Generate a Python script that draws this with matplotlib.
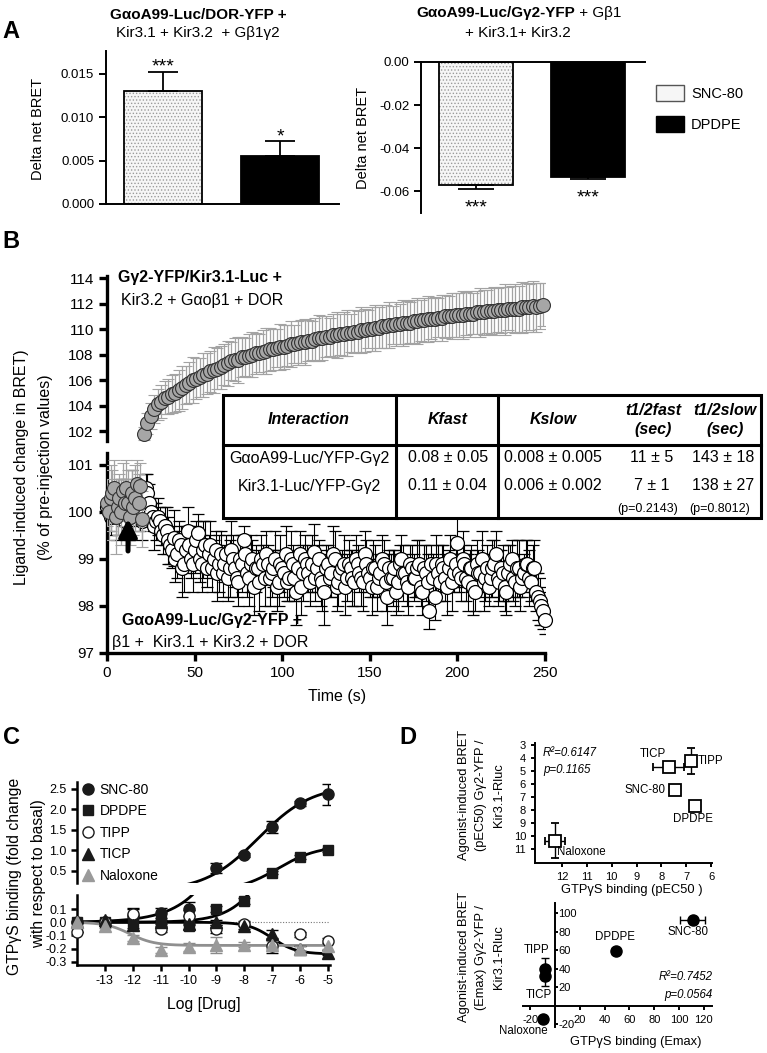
import numpy as np
import matplotlib
matplotlib.use('Agg')
import matplotlib.pyplot as plt
from matplotlib.lines import Line2D
from matplotlib.patches import Patch, Rectangle
from matplotlib.legend_handler import HandlerTuple
from matplotlib.ticker import FormatStrFormatter

plt.rcParams['font.family'] = ['Liberation Sans', 'DejaVu Sans']
plt.rcParams['axes.unicode_minus'] = False
plt.rcParams['hatch.linewidth'] = 0.6

# ---------------- data ----------------
# Panel A: delta net BRET
a_drugs = ['SNC-80', 'DPDPE']
a_dor_vals = [0.0130, 0.0055]
a_dor_errs = [0.0022, 0.0017]
a_dor_stars = ['***', '*']
a_gg_vals = [-0.0572, -0.0535]
a_gg_errs = [0.0019, 0.0009]
a_gg_stars = ['***', '***']

# Panel B: kinetics (% of pre-injection)
b_base_t = [0, 1, 2, 3, 4, 5, 6, 7, 8, 9, 10, 11, 12, 13, 14, 15, 16, 17, 18, 19, 20]
b_base_v = [100.2, 100.0, 100.3, 100.4, 100.5, 99.9, 100.1, 100.3, 100.0, 100.45,
            100.2, 100.5, 100.2, 99.9, 100.4, 100.1, 100.3, 100.6, 100.2, 100.55, 99.85]
b_base_e = [0.5, 0.6, 0.7, 0.5, 0.6, 0.8, 0.6, 0.5, 0.7, 0.6,
            0.5, 0.6, 0.7, 0.6, 0.5, 0.6, 0.7, 0.5, 0.6, 0.5, 0.6]

b_resp_t = np.arange(21, 250, 2)
b_resp_v = [101.8, 102.6, 103.2, 103.7, 104.1, 104.3, 104.6, 104.7, 104.9, 105.0,
            105.2, 105.4, 105.6, 105.8, 106.0, 106.1, 106.2, 106.4, 106.5, 106.7,
            106.8, 106.9, 107.0, 107.2, 107.3, 107.5, 107.6, 107.6, 107.8, 107.8,
            107.9, 108.0, 108.1, 108.1, 108.2, 108.3, 108.4, 108.4, 108.5, 108.6,
            108.6, 108.7, 108.8, 108.8, 108.9, 109.0, 109.0, 109.1, 109.1, 109.2,
            109.3, 109.3, 109.4, 109.4, 109.5, 109.5, 109.6, 109.6, 109.7, 109.7,
            109.8, 109.8, 109.9, 109.9, 110.0, 110.0, 110.1, 110.1, 110.2, 110.2,
            110.3, 110.3, 110.4, 110.4, 110.5, 110.5, 110.5, 110.6, 110.6, 110.7,
            110.7, 110.8, 110.8, 110.8, 110.9, 110.9, 111.0, 111.0, 111.0, 111.1,
            111.1, 111.1, 111.2, 111.2, 111.2, 111.3, 111.3, 111.3, 111.4, 111.4,
            111.4, 111.5, 111.5, 111.5, 111.6, 111.6, 111.6, 111.6, 111.7, 111.7,
            111.7, 111.8, 111.7, 111.8, 111.9]
b_resp_e = [0.5, 0.8, 1.0, 1.1, 1.2, 1.3, 1.3, 1.4, 1.5, 1.5,
            1.6, 1.7, 1.5, 1.6, 1.8, 1.6, 1.5, 1.7, 1.6, 1.6,
            1.8, 1.6, 1.7, 1.6, 1.8, 1.5, 1.7, 1.8, 1.6, 1.5,
            1.7, 1.8, 1.6, 1.5, 1.7, 1.8, 1.7, 1.6, 1.5, 1.8,
            1.7, 1.6, 1.8, 1.5, 1.7, 1.7, 1.8, 1.6, 1.5, 1.7,
            1.8, 1.7, 1.6, 1.5, 1.7, 1.8, 1.6, 1.7, 1.8, 1.5,
            1.7, 1.6, 1.8, 1.7, 1.5, 1.7, 1.8, 1.6, 1.7, 1.7,
            1.8, 1.5, 1.7, 1.6, 1.8, 1.7, 1.6, 1.7, 1.8, 1.6,
            1.7, 1.8, 1.6, 1.7, 1.5, 1.8, 1.7, 1.6, 1.8, 1.7,
            1.7, 1.9, 1.7, 1.8, 1.6, 1.7, 1.9, 1.8, 1.7, 1.8,
            1.9, 1.7, 1.8, 2.0, 1.7, 1.8, 1.9, 1.8, 2.0, 1.9,
            1.8, 2.0, 1.9, 1.8, 1.7]

# white series, even seconds
b_white_t = np.arange(0, 251, 2)
b_white_v = [100.1, 99.9, 100.2, 100.0, 100.3, 99.8, 100.1, 100.4, 100.0, 100.2,
             99.8, 100.5, 100.2, 99.9, 99.8, 99.8, 99.5, 99.6, 99.3, 99.45,
             99.1, 99.3, 98.9, 99.6, 99.0, 99.2, 99.55, 98.9, 99.3, 99.1,
             98.8, 99.2, 98.9, 98.7, 99.1, 98.8, 99.0, 98.6, 99.0, 99.4,
             98.7, 98.9, 98.4, 98.8, 99.0, 98.6, 98.9, 98.7, 99.0, 98.5,
             98.8, 99.1, 98.6, 98.9, 98.3, 99.1, 98.7, 98.9, 98.5, 99.15,
             98.8, 98.6, 98.3, 98.9, 98.7, 99.0, 98.5, 98.8, 98.4, 98.9,
             98.6, 99.0, 98.7, 98.5, 98.9, 98.6, 98.8, 98.4, 98.7, 98.9,
             98.2, 98.6, 98.8, 98.5, 99.0, 98.7, 98.4, 98.8, 98.6, 98.9,
             98.3, 98.7, 97.9, 98.6, 98.9, 98.5, 98.8, 98.4, 99.0, 98.7,
             99.35, 98.6, 98.9, 98.5, 98.8, 98.3, 98.7, 99.0, 98.6, 98.4,
             98.8, 99.1, 98.5, 98.7, 98.3, 98.9, 98.6, 98.8, 98.4, 98.7,
             98.9, 98.5, 98.8, 98.2, 98.0, 97.7]
b_white_e = [0.3, 0.4, 0.3, 0.5, 0.4, 0.3, 0.4, 0.5, 0.3, 0.4,
             0.4, 0.3, 0.4, 0.3, 0.4, 0.3, 0.4, 0.5, 0.4, 0.6,
             0.5, 0.4, 0.6, 0.5, 0.4, 0.5, 0.4, 0.6, 0.5, 0.4,
             0.5, 0.4, 0.6, 0.5, 0.4, 0.6, 0.5, 0.4, 0.5, 0.3,
             0.5, 0.6, 0.6, 0.4, 0.5, 0.6, 0.4, 0.5, 0.6, 0.5,
             0.4, 0.6, 0.5, 0.4, 0.7, 0.5, 0.6, 0.4, 0.5, 0.6,
             0.5, 0.6, 0.7, 0.4, 0.5, 0.6, 0.5, 0.4, 0.6, 0.5,
             0.6, 0.5, 0.4, 0.6, 0.5, 0.4, 0.6, 0.5, 0.4, 0.5,
             0.6, 0.5, 0.4, 0.6, 0.5, 0.4, 0.6, 0.5, 0.4, 0.5,
             0.5, 0.6, 0.4, 0.5, 0.6, 0.4, 0.5, 0.6, 0.5, 0.4,
             0.6, 0.5, 0.4, 0.6, 0.5, 0.4, 0.5, 0.6, 0.5, 0.4,
             0.6, 0.5, 0.4, 0.6, 0.5, 0.4, 0.5, 0.6, 0.5, 0.4,
             0.5, 0.4, 0.6, 0.5, 0.4, 0.3]
# white series, odd seconds
b_white_t2 = np.arange(1, 250, 2)
b_white_v2 = [100.0, 100.3, 99.9, 100.2, 100.1, 100.4, 99.9, 100.2, 100.3, 100.0,
              100.3, 100.4, 100.0, 99.7, 99.9, 99.6, 99.7, 99.4, 99.2, 99.0,
              99.4, 98.8, 99.2, 99.3, 98.9, 99.4, 99.0, 99.2, 98.8, 99.3,
              99.0, 98.7, 99.1, 98.9, 98.6, 99.2, 98.8, 98.5, 98.9, 99.1,
              98.6, 99.0, 98.8, 98.5, 98.9, 99.1, 98.6, 98.8, 98.4, 98.9,
              98.7, 98.5, 99.0, 98.6, 98.8, 98.4, 99.0, 98.7, 98.9, 98.6,
              99.0, 98.5, 98.8, 98.6, 99.1, 98.4, 98.7, 98.9, 98.6, 98.8,
              98.5, 98.9, 98.6, 99.1, 98.7, 98.4, 98.8, 98.6, 99.0, 98.5,
              98.8, 98.6, 98.3, 98.9, 98.7, 98.5, 98.9, 98.6, 98.8, 98.4,
              98.8, 98.5, 98.9, 98.2, 98.7, 98.9, 98.6, 98.8, 98.5, 98.9,
              98.7, 99.0, 98.6, 98.8, 98.4, 98.9, 98.7, 98.5, 98.8, 98.6,
              98.9, 98.6, 98.8, 98.4, 98.7, 99.0, 98.5, 98.8, 98.6, 98.9,
              98.6, 98.8, 98.3, 98.1, 97.9]
b_white_e2 = [0.4, 0.3, 0.5, 0.3, 0.4, 0.3, 0.5, 0.4, 0.3, 0.4,
              0.3, 0.4, 0.3, 0.5, 0.4, 0.3, 0.4, 0.5, 0.4, 0.5,
              0.4, 0.6, 0.5, 0.4, 0.6, 0.4, 0.5, 0.6, 0.4, 0.5,
              0.4, 0.6, 0.5, 0.4, 0.5, 0.6, 0.4, 0.5, 0.6, 0.4,
              0.6, 0.4, 0.5, 0.6, 0.4, 0.5, 0.6, 0.4, 0.5, 0.6,
              0.5, 0.4, 0.6, 0.5, 0.4, 0.6, 0.5, 0.4, 0.6, 0.5,
              0.4, 0.6, 0.5, 0.4, 0.6, 0.5, 0.4, 0.6, 0.5, 0.4,
              0.5, 0.4, 0.6, 0.5, 0.4, 0.6, 0.5, 0.4, 0.5, 0.6,
              0.4, 0.6, 0.5, 0.4, 0.6, 0.5, 0.4, 0.5, 0.6, 0.4,
              0.5, 0.6, 0.4, 0.5, 0.6, 0.4, 0.5, 0.4, 0.6, 0.5,
              0.4, 0.6, 0.5, 0.4, 0.6, 0.5, 0.4, 0.6, 0.5, 0.4,
              0.5, 0.6, 0.4, 0.5, 0.6, 0.4, 0.5, 0.6, 0.4, 0.5,
              0.6, 0.5, 0.4, 0.5, 0.4]

tab_head = ['Interaction', 'Kfast', 'Kslow', 't1/2fast\n(sec)', 't1/2slow\n(sec)']
tab_row1 = ['GαoA99-Luc/YFP-Gγ2', '0.08 ± 0.05', '0.008 ± 0.005', '11 ± 5', '143 ± 18']
tab_row2 = ['Kir3.1-Luc/YFP-Gγ2', '0.11 ± 0.04', '0.006 ± 0.002', '7 ± 1', '138 ± 27']
tab_pvals = ['(p=0.2143)', '(p=0.8012)']

# Panel C: GTPyS binding
c_logx = [-14, -13, -12, -11, -10, -9, -8, -7, -6, -5]
c_snc = [0.0, 0.0, 0.05, 0.07, 0.10, 0.57, 0.88, 1.58, 2.15, 2.37]
c_snc_err = [0.0, 0.0, 0.05, 0.04, 0.05, 0.12, 0.05, 0.15, 0.06, 0.25]
c_dpdpe = [0.0, 0.0, 0.0, 0.01, -0.03, 0.10, 0.16, 0.46, 0.84, 1.02]
c_dpdpe_err = [0.0, 0.0, 0.0, 0.01, 0.02, 0.02, 0.02, 0.03, 0.04, 0.05]
c_tipp = [-0.07, 0.0, 0.06, -0.05, 0.05, -0.05, -0.01, -0.18, -0.09, -0.14]
c_tipp_err = [0.0, 0.0, 0.05, 0.02, 0.04, 0.03, 0.02, 0.05, 0.02, 0.02]
c_ticp = [0.0, 0.02, -0.02, 0.0, -0.01, 0.0, -0.03, -0.09, -0.20, -0.23]
c_ticp_err = [0.0, 0.0, 0.02, 0.01, 0.01, 0.02, 0.02, 0.03, 0.02, 0.02]
c_nalox = [0.0, -0.03, -0.12, -0.21, -0.19, -0.17, -0.17, -0.17, -0.20, -0.18]
c_nalox_err = [0.0, 0.01, 0.02, 0.02, 0.03, 0.06, 0.02, 0.03, 0.02, 0.02]
# sigmoid fits: low plateau, high plateau, logEC50, hill
fit_snc = [0.0, 2.6, -7.5, 0.45]
fit_dpdpe = [0.0, 1.12, -6.8, 0.6]
fit_ticp = [0.0, -0.24, -7.0, 1.0]
fit_nalox = [0.0, -0.175, -12.1, 1.0]

# Panel D: correlations
d_names = ['TICP', 'TIPP', 'SNC-80', 'DPDPE', 'Naloxone']
d_gtp_pec50 = [7.7, 6.8, 7.45, 6.65, 12.3]
d_gtp_pec50_err = [0.62, 0.15, 0.2, 0.0, 0.4]
d_bret_pec50 = [4.7, 4.25, 6.45, 7.7, 10.35]
d_bret_pec50_err = [0.1, 1.0, 0.05, 0.0, 1.35]

d_names2 = ['SNC-80', 'DPDPE', 'TIPP', 'TICP', 'Naloxone']
d_gtp_emax = [111, 49, -8, -8, -10]
d_gtp_emax_err = [10, 3, 0, 0, 0]
d_bret_emax = [93, 59, 40, 32, -14]
d_bret_emax_err = [0, 0, 12, 11, 0]

# ---------------- layout helpers (pixel based) ----------------
W, H = 767, 1053
fig = plt.figure(figsize=(W / 100, H / 100), dpi=100)


def fbox(x0, y0, x1, y1):
    return [x0 / W, 1 - y1 / H, (x1 - x0) / W, (y1 - y0) / H]


def ftext(x, y, s, **kw):
    kw.setdefault('ha', 'center')
    kw.setdefault('va', 'center')
    return fig.text(x / W, 1 - y / H, s, **kw)


def style(ax, lw, fs, tl=5, hide=('top', 'right')):
    ax.set_facecolor('none')
    for s in hide:
        ax.spines[s].set_visible(False)
    for s in ax.spines.values():
        s.set_linewidth(lw)
    ax.tick_params(width=lw, length=tl, labelsize=fs, direction='out')


def sigmoid(x, p):
    low, high, ec, h = p
    return low + (high - low) / (1 + 10 ** ((ec - x) * h))


# ---------------- Panel A ----------------
for lbl, y in [('A', 31), ('B', 242), ('C', 737)]:
    ftext(11, y, lbl, fontsize=17, fontweight='bold')
ftext(408, 737, 'D', fontsize=17, fontweight='bold')

ftext(198, 15, 'GαoA99-Luc/DOR-YFP +', fontsize=11, fontweight='bold')
ftext(198, 33, 'Kir3.1 + Kir3.2  + Gβ1γ2', fontsize=11)
ftext(575, 13, 'GαoA99-Luc/Gγ2-YFP', fontsize=11, fontweight='bold', ha='right')
ftext(575, 13, ' + Gβ1', fontsize=11, ha='left')
ftext(518, 33, '+ Kir3.1+ Kir3.2', fontsize=11)

bw = 0.665
dot_kw = dict(color='#f6f6f6', edgecolor='#9a9a9a', hatch='.....', linewidth=0)

axA1 = fig.add_axes(fbox(106, 51, 339, 204))
style(axA1, 1.4, 9.5)
x = np.arange(len(a_drugs))
axA1.bar(x[0], a_dor_vals[0], width=bw, **dot_kw)
axA1.bar(x, a_dor_vals, width=bw, color=['none', 'black'], edgecolor='black', linewidth=1.3)
axA1.errorbar(x, a_dor_vals, yerr=[[0, 0], a_dor_errs], fmt='none', ecolor='black',
              elinewidth=1.3, capsize=11, capthick=1.3)
for xi, v, e, s in zip(x, a_dor_vals, a_dor_errs, a_dor_stars):
    axA1.annotate(s, (xi, v + e), xytext=(0, 3.5), textcoords='offset points',
                  ha='center', va='center', fontsize=14)
axA1.set_xlim(-0.485, 1.5)
axA1.set_ylim(0, 0.0176)
axA1.set_xticks([])
axA1.set_yticks([0, 0.005, 0.010, 0.015])
axA1.yaxis.set_major_formatter(FormatStrFormatter('%.3f'))
axA1.set_ylabel('Delta net BRET', fontsize=10.5)
axA1.yaxis.set_label_coords(-0.262, 0.49)

axA2 = fig.add_axes(fbox(421, 62, 645, 213))
style(axA2, 1.4, 9.5, hide=('bottom', 'right'))
axA2.bar(x[0], a_gg_vals[0], width=bw, **dot_kw)
axA2.bar(x, a_gg_vals, width=bw, color=['none', 'black'], edgecolor='black', linewidth=1.3)
axA2.errorbar(x, a_gg_vals, yerr=[a_gg_errs, [0, 0]], fmt='none', ecolor='black',
              elinewidth=1.3, capsize=13, capthick=1.3)
for xi, v, e, s in zip(x, a_gg_vals, a_gg_errs, a_gg_stars):
    axA2.annotate(s, (xi, v - e), xytext=(0, -13.5), textcoords='offset points',
                  ha='center', va='center', fontsize=14)
axA2.set_xlim(-0.49, 1.51)
axA2.set_ylim(-0.0702, 0)
axA2.set_xticks([])
axA2.set_yticks([0, -0.02, -0.04, -0.06])
axA2.yaxis.set_major_formatter(FormatStrFormatter('%.2f'))
axA2.set_ylabel('Delta net BRET', fontsize=10.5)
axA2.yaxis.set_label_coords(-0.228, 0.5)

h_dot = (Patch(**dot_kw), Patch(facecolor='none', edgecolor='#555555', linewidth=1.0))
h_blk = Patch(facecolor='black', edgecolor='black', linewidth=1.0)
fig.legend([h_dot, h_blk], a_drugs, handler_map={tuple: HandlerTuple(ndivide=1)},
           loc='upper left', bbox_to_anchor=(653 / W, 1 - 82 / H), frameon=False,
           fontsize=10.5, handlelength=1.9, handleheight=1.3, labelspacing=1.05,
           handletextpad=0.5, borderaxespad=0, borderpad=0.2)

# ---------------- Panel B ----------------
axBU = fig.add_axes(fbox(107, 276, 545, 441))
style(axBU, 2.4, 11, tl=6, hide=('top', 'right', 'bottom'))
eb = axBU.errorbar(b_resp_t, b_resp_v, yerr=b_resp_e, fmt='o', ms=10, mfc='#a6a6a6',
                   mec='#333333', mew=0.8, ecolor='#a3a3a3', elinewidth=0.9,
                   capsize=4, capthick=0.9)
eb[0].set_clip_on(False)
axBU.set_xlim(0, 250)
axBU.set_ylim(101.22, 114.16)
axBU.set_xticks([])
axBU.set_yticks(np.arange(102, 115, 2))

axBL = fig.add_axes(fbox(107, 453, 545, 653))
style(axBL, 2.4, 11, tl=6)
w_t = np.r_[b_white_t, b_white_t2]
w_v = np.r_[b_white_v, b_white_v2]
w_e = np.r_[b_white_e, b_white_e2]
order = np.argsort(w_t, kind='stable')
eb = axBL.errorbar(w_t[order], w_v[order], yerr=w_e[order], fmt='o', ms=10, mfc='white',
                   mec='black', mew=0.9, ecolor='black', elinewidth=0.8,
                   capsize=4, capthick=0.8, zorder=2)
eb[0].set_clip_on(False)
eb = axBL.errorbar(b_base_t, b_base_v, yerr=b_base_e, fmt='o', ms=10, mfc='#a6a6a6',
                   mec='#333333', mew=0.8, ecolor='#a3a3a3', elinewidth=0.9,
                   capsize=4, capthick=0.9, zorder=3)
eb[0].set_clip_on(False)
axBL.annotate('', xy=(12, 99.86), xytext=(12, 99.17),
              arrowprops=dict(arrowstyle='-|>,head_width=0.38,head_length=0.75',
                              lw=3.6, color='black', mutation_scale=14,
                              shrinkA=0, shrinkB=0), zorder=5)
axBL.set_xlim(0, 250)
axBL.set_ylim(97, 101.255)
axBL.set_yticks([97, 98, 99, 100, 101])
axBL.set_xticks(np.arange(0, 251, 50))

ftext(118, 278, 'Gγ2-YFP/Kir3.1-Luc +', fontsize=11.5, fontweight='bold', ha='left')
ftext(121, 301, 'Kir3.2 + Gαoβ1 + DOR', fontsize=11.5, ha='left')
ftext(122, 621, 'GαoA99-Luc/Gγ2-YFP +', fontsize=11.5, fontweight='bold', ha='left')
ftext(112, 643, 'β1 +  Kir3.1 + Kir3.2 + DOR', fontsize=11.5, ha='left')
ftext(22, 467, 'Ligand-induced change in BRET)', fontsize=11.5, rotation=90)
ftext(46, 467, '(% of pre-injection values)', fontsize=11.5, rotation=90)
ftext(337, 697, 'Time (s)', fontsize=11.5)

# table drawn in pixel space on an overlay axes
tab = fig.add_axes([0, 0, 1, 1], zorder=10)
tab.set_xlim(0, W)
tab.set_ylim(H, 0)
tab.axis('off')
tab.add_patch(Rectangle((223, 395), 538, 123, facecolor='white', edgecolor='black', lw=2.2))
tab.plot([223, 761], [445, 445], color='black', lw=2.2)
for xv in (396, 498):
    tab.plot([xv, xv], [395, 518], color='black', lw=2.2)
for cx, s in zip([309, 448, 553, 653, 725], tab_head):
    tab.text(cx, 420, s, ha='center', va='center', fontsize=11.5, fontweight='bold',
             style='italic', linespacing=1.35)
for row, ry in ((tab_row1, 458), (tab_row2, 486)):
    for cx, s in zip([309, 448, 553, 652, 723], row):
        tab.text(cx, ry, s, ha='center', va='center', fontsize=11.5)
for cx, s in zip([648, 720], tab_pvals):
    tab.text(cx, 509, s, ha='center', va='center', fontsize=9)

# ---------------- Panel C ----------------
c_split = 0.207
axCU = fig.add_axes(fbox(77, 782, 330, 883))
style(axCU, 1.8, 9, tl=4, hide=('top', 'right', 'bottom'))
axCL = fig.add_axes(fbox(77, 895, 330, 965))
style(axCL, 1.8, 9, tl=4)
for ax in (axCU, axCL):
    ax.set_xlim(-14.0, -4.93)
axCU.set_ylim(c_split, 2.67)
axCL.set_ylim(-0.323, 0.206)
axCU.set_xticks([])
axCU.set_yticks([0.5, 1.0, 1.5, 2.0, 2.5])
axCU.yaxis.set_major_formatter(FormatStrFormatter('%.1f'))
axCL.set_yticks([-0.3, -0.2, -0.1, 0.0, 0.1])
axCL.yaxis.set_major_formatter(FormatStrFormatter('%.1f'))
axCL.set_xticks(np.arange(-13, -4))
axCL.axhline(0, color='#777777', lw=0.8, ls=(0, (1, 1.5)), zorder=0)

xx = np.linspace(-14, -5, 400)
for p, col in ((fit_snc, 'black'), (fit_dpdpe, 'black'), (fit_ticp, 'black'),
               (fit_nalox, '#8f8f8f')):
    for ax in (axCU, axCL):
        ax.plot(xx, sigmoid(xx, p), color=col, lw=2, zorder=1)

c_series = [
    ('SNC-80', c_snc, c_snc_err, dict(marker='o', ms=8, mfc='#1a1a1a', mec='#1a1a1a'), 'black'),
    ('DPDPE', c_dpdpe, c_dpdpe_err, dict(marker='s', ms=7.5, mfc='#1a1a1a', mec='#1a1a1a'), 'black'),
    ('TIPP', c_tipp, c_tipp_err, dict(marker='o', ms=8, mfc='white', mec='#1a1a1a', mew=1.0), 'black'),
    ('TICP', c_ticp, c_ticp_err, dict(marker='^', ms=8, mfc='#1a1a1a', mec='#1a1a1a'), 'black'),
    ('Naloxone', c_nalox, c_nalox_err, dict(marker='^', ms=8, mfc='#9a9a9a', mec='#9a9a9a'), '#8a8a8a'),
]
cx = np.array(c_logx)
c_handles = []
for name, vals, errs, mk, ecol in c_series:
    vals, errs = np.array(vals), np.array(errs)
    up = vals > c_split
    for ax, m in ((axCU, up), (axCL, ~up)):
        if m.any():
            e = ax.errorbar(cx[m], vals[m], yerr=errs[m], ls='none', ecolor=ecol,
                            elinewidth=1.0, capsize=4, capthick=1.0, zorder=3, **mk)
            e[0].set_clip_on(False)
    c_handles.append(Line2D([], [], ls='none', **mk))
axCU.legend(c_handles, [s[0] for s in c_series], loc='upper left',
            bbox_to_anchor=(0.02, 0.995), frameon=False, fontsize=10, handlelength=0.8,
            handletextpad=0.45, labelspacing=0.55, borderaxespad=0, borderpad=0)

ftext(15, 876, 'GTPγS binding (fold change', fontsize=11.3, rotation=90)
ftext(39, 874, 'with respect to basal)', fontsize=11.3, rotation=90)
ftext(204, 1004, 'Log [Drug]', fontsize=11.3)

# ---------------- Panel D ----------------
axDT = fig.add_axes(fbox(535, 743, 712, 863))
style(axDT, 1.4, 8, tl=3)
axDT.errorbar(d_gtp_pec50, d_bret_pec50, xerr=d_gtp_pec50_err, yerr=d_bret_pec50_err,
              fmt='s', ms=8.5, mfc='white', mec='black', mew=1.3, ecolor='black',
              elinewidth=1.0, capsize=3, capthick=1.0)
axDT.set_xlim(13.09, 5.96)
axDT.set_ylim(12.08, 2.85)
axDT.set_xticks(np.arange(12, 5, -1))
axDT.set_yticks(np.arange(3, 12))
d_off1 = {'TICP': ((-11.5, 9.4), 'center'), 'TIPP': ((5, 0), 'left'),
          'SNC-80': ((-6.5, 0), 'right'), 'DPDPE': ((-1.4, -9.4), 'center'),
          'Naloxone': ((2, -8.6), 'left')}
for n, xv, yv in zip(d_names, d_gtp_pec50, d_bret_pec50):
    off, ha = d_off1[n]
    axDT.annotate(n, (xv, yv), xytext=off, textcoords='offset points', ha=ha,
                  va='center', fontsize=8.3)
axDT.text(0.045, 0.917, 'R²=0.6147', transform=axDT.transAxes, fontsize=8.3,
          style='italic', va='center')
axDT.text(0.045, 0.775, 'p=0.1165', transform=axDT.transAxes, fontsize=8.3,
          style='italic', va='center')

axDB = fig.add_axes(fbox(523, 903, 712, 1027))
style(axDB, 1.4, 8, tl=3, hide=('top', 'left'))
axDB.spines['bottom'].set_position(('data', 0))
axDB.spines['right'].set_position(('data', 0))
axDB.yaxis.tick_right()
axDB.tick_params(axis='y', pad=0.5, length=2)
axDB.errorbar(d_gtp_emax, d_bret_emax, xerr=d_gtp_emax_err, yerr=d_bret_emax_err,
              fmt='o', ms=8, mfc='black', mec='black', ecolor='black',
              elinewidth=1.0, capsize=3, capthick=1.0)
axDB.set_xlim(-25.8, 126.6)
axDB.set_ylim(-22.7, 111)
axDB.set_xticks([-20, 20, 40, 60, 80, 100, 120])
axDB.set_yticks([-20, 20, 40, 60, 80, 100])
d_off2 = {'SNC-80': (-3, -8.6), 'DPDPE': (-0.7, 10), 'TIPP': (-5.8, 13.7),
          'TICP': (-4.3, -13.7), 'Naloxone': (-13.7, -8.6)}
for n, xv, yv in zip(d_names2, d_gtp_emax, d_bret_emax):
    axDB.annotate(n, (xv, yv), xytext=d_off2[n], textcoords='offset points',
                  ha='center', va='center', fontsize=8.3)
axDB.text(1.005, 0.403, 'R²=0.7452', transform=axDB.transAxes, fontsize=8.3,
          style='italic', va='center', ha='right')
axDB.text(1.005, 0.258, 'p=0.0564', transform=axDB.transAxes, fontsize=8.3,
          style='italic', va='center', ha='right')

for yc, lines in ((795, ['Agonist-induced BRET', '(pEC50) Gγ2-YFP /', 'Kir3.1-Rluc']),
                  (957, ['Agonist-induced BRET', '(Emax) Gγ2-YFP /', 'Kir3.1-Rluc'])):
    for xc, s in zip((464, 481, 499), lines):
        ftext(xc, yc, s, fontsize=9.3, rotation=90)
ftext(632, 890, 'GTPγS binding (pEC50 )', fontsize=9.3)
ftext(636, 1042, 'GTPγS binding (Emax)', fontsize=9.3)

fig.savefig('out.png', dpi=100)
